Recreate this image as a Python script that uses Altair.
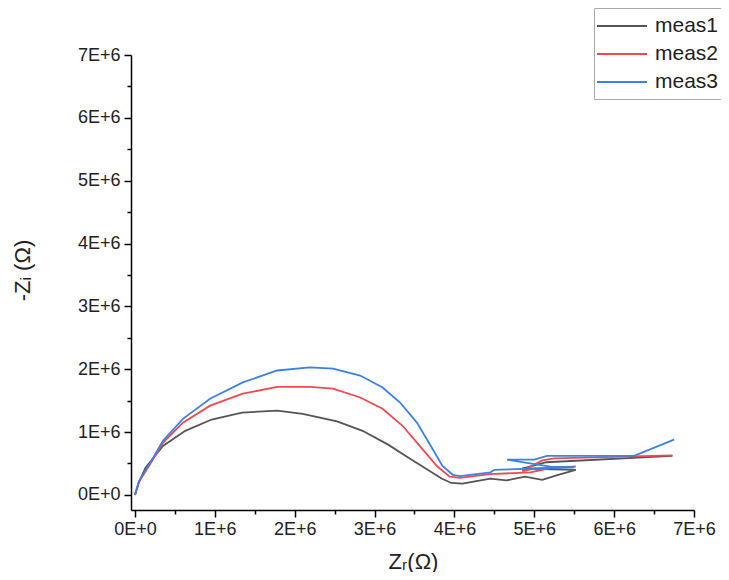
import altair as alt
import pandas as pd

# ---- data (values in units of 1E+6 ohm) ----
meas1_x = [0, 0.05, 0.13, 0.35, 0.63, 0.96, 1.34, 1.78, 2.10, 2.53, 2.85, 3.17, 3.44, 3.69, 3.84, 3.96, 4.10,
           4.45, 4.65, 4.88, 5.10, 5.30, 5.52, 4.85, 5.15, 6.73]
meas1_y = [0, 0.20, 0.43, 0.78, 1.02, 1.20, 1.31, 1.34, 1.29, 1.17, 1.02, 0.80, 0.58, 0.38, 0.26, 0.19, 0.18,
           0.26, 0.23, 0.29, 0.24, 0.32, 0.40, 0.42, 0.52, 0.62]

meas2_x = [0, 0.05, 0.19, 0.35, 0.60, 0.94, 1.35, 1.78, 2.19, 2.48, 2.82, 3.10, 3.35, 3.60, 3.78, 3.94, 4.07,
           4.44, 4.95, 5.25, 5.52, 5.00, 4.85, 5.10, 5.25, 6.73]
meas2_y = [0, 0.21, 0.49, 0.83, 1.15, 1.42, 1.61, 1.72, 1.72, 1.69, 1.55, 1.37, 1.10, 0.73, 0.46, 0.29, 0.27,
           0.33, 0.36, 0.44, 0.45, 0.42, 0.38, 0.55, 0.58, 0.63]

meas3_x = [0, 0.05, 0.19, 0.35, 0.60, 0.94, 1.35, 1.78, 2.19, 2.48, 2.82, 3.10, 3.32, 3.53, 3.69, 3.85, 3.98, 4.07,
           4.45, 4.50, 5.00, 5.50, 5.20, 4.66, 5.00, 5.16, 6.25, 6.75]
meas3_y = [0, 0.22, 0.51, 0.86, 1.21, 1.53, 1.79, 1.98, 2.03, 2.01, 1.90, 1.71, 1.47, 1.15, 0.81, 0.46, 0.32, 0.30,
           0.36, 0.40, 0.42, 0.44, 0.45, 0.56, 0.56, 0.62, 0.62, 0.88]

series_names = ["meas1", "meas2", "meas3"]
series_colors = ["#555555", "#f04a50", "#3c82e6"]

rows = []
for name, xs, ys in zip(series_names, [meas1_x, meas2_x, meas3_x], [meas1_y, meas2_y, meas3_y]):
    for i, (a, b) in enumerate(zip(xs, ys)):
        rows.append({"series": name, "idx": i, "zr": a * 1e6, "zi": b * 1e6})
df = pd.DataFrame(rows)

tick_vals = [i * 500000 for i in range(15)]
label_expr = ("datum.value % 1000000 == 0 ? (datum.value == 0 ? '0E+0' : "
              "format(datum.value / 1000000, 'd') + 'E+6') : ''")
tick_size = {"condition": {"test": "datum.value % 1000000 == 0", "value": 7}, "value": 4}

FONT = "Liberation Sans"

x_axis = alt.Axis(
    values=tick_vals, labelExpr=label_expr, tickSize=tick_size, labelOverlap=False, labelFlush=False,
    grid=False, domainColor="black", domainWidth=1.5, tickColor="black", tickWidth=1.5,
    labelFont=FONT, labelFontSize=18, labelColor="#222", labelPadding=3,
    title="Zᵣ(Ω)", titleFont=FONT, titleFontSize=22, titleFontWeight="normal", titleColor="#222",
    titleX=282, titleY=51, titleBaseline="middle", titleAlign="center",
)
y_axis = alt.Axis(
    values=tick_vals, labelExpr=label_expr, tickSize=tick_size, labelOverlap=False, labelFlush=False,
    grid=False, domainColor="black", domainWidth=1.5, tickColor="black", tickWidth=1.5,
    labelFont=FONT, labelFontSize=18, labelColor="#222", labelPadding=4,
    title="-Zᵢ (Ω)", titleFont=FONT, titleFontSize=22, titleFontWeight="normal", titleColor="#222",
    titleX=-109, titleY=215, titleAngle=-90, titleBaseline="middle", titleAlign="center",
)

chart = alt.Chart(df).mark_line(strokeWidth=1.8).encode(
    x=alt.X("zr:Q", scale=alt.Scale(domain=[-50000, 7000000], nice=False, zero=False), axis=x_axis),
    y=alt.Y("zi:Q", scale=alt.Scale(domain=[-240000, 7000000], nice=False, zero=False), axis=y_axis),
    color=alt.Color("series:N", scale=alt.Scale(domain=series_names, range=series_colors),
                    legend=alt.Legend(
                        title=None, orient="none", legendX=463, legendY=-47,
                        symbolType="M-2.5,0H2.5", symbolSize=400, symbolStrokeWidth=2,
                        symbolOffset=10, labelOffset=22, padding=7, rowPadding=7,
                        strokeColor="#aaaaaa", fillColor="white",
                        labelFont=FONT, labelFontSize=21, labelColor="#222",
                    )),
    order=alt.Order("idx:Q"),
).properties(
    width=563, height=455,
    padding={"left": 123, "top": 47, "right": 27, "bottom": 62},
    autosize=alt.AutoSizeParams(type="none"),
).configure_view(stroke=None)

chart.save("out.html", embed_options={"renderer": "svg", "actions": False})
